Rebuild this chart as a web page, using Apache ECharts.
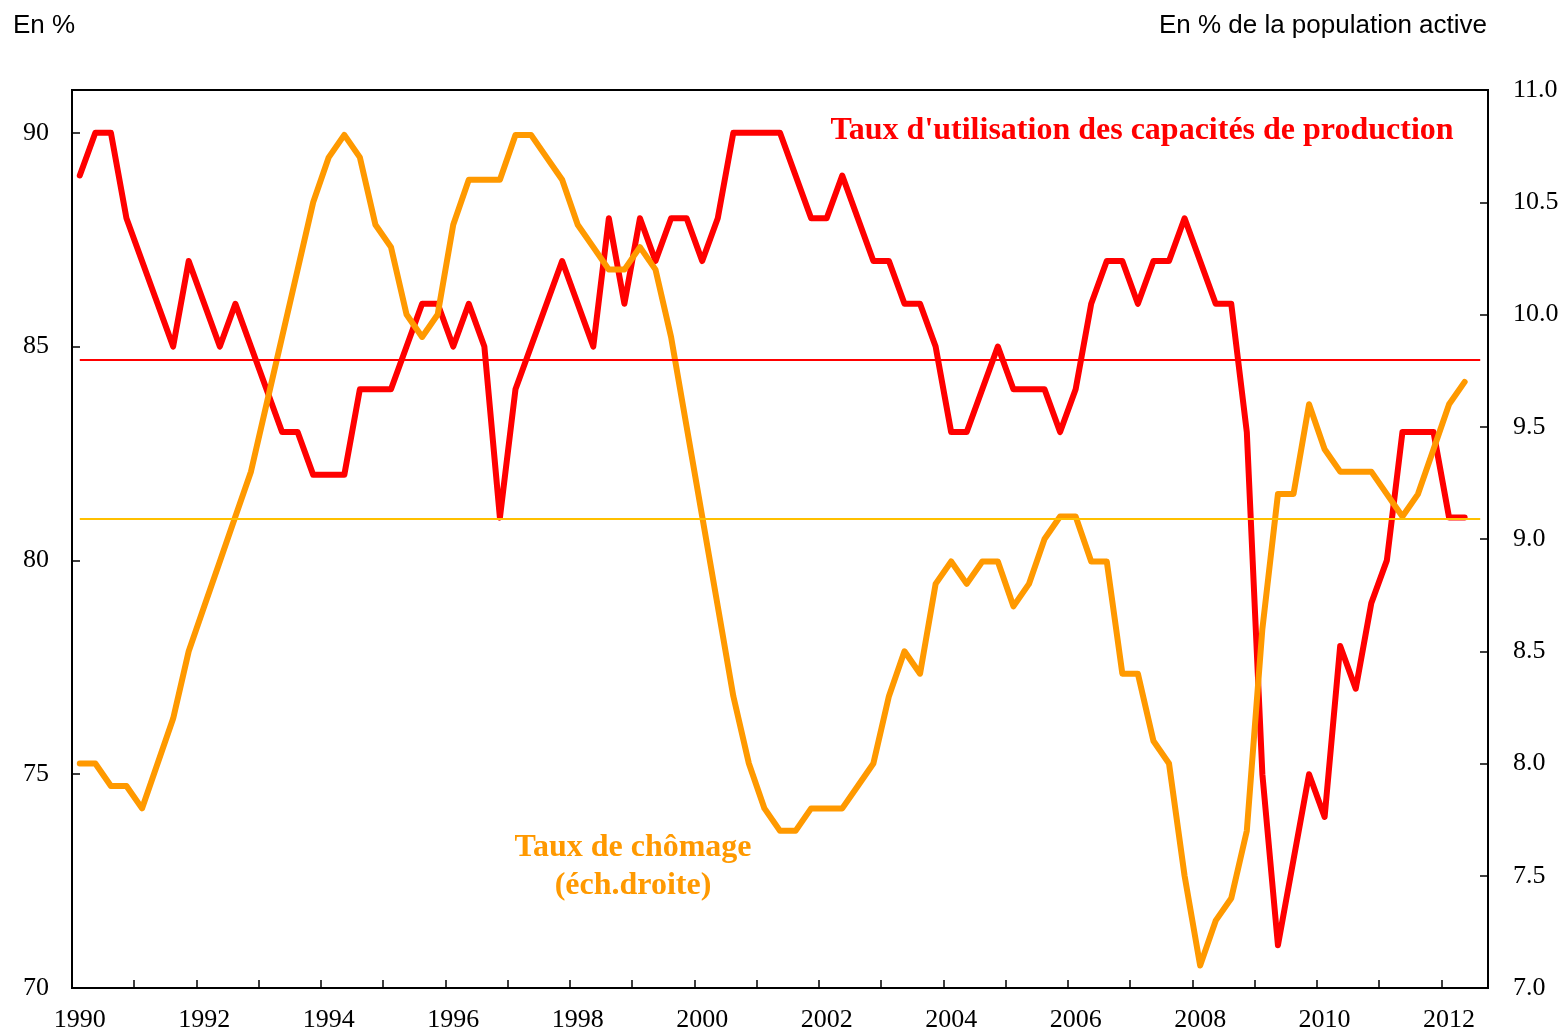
<!DOCTYPE html>
<html>
<head>
<meta charset="utf-8">
<script src="https://cdn.jsdelivr.net/npm/echarts@6/dist/echarts.min.js"></script>
<style>
  html, body { margin: 0; padding: 0; background: #fff; }
  #chart { width: 1565px; height: 1033px; }
</style>
</head>
<body>
<div id="chart"></div>
<script>
// years shown on the axis, quarterly data from 1990T1 to 2012T2
const years = [1990, 1991, 1992, 1993, 1994, 1995, 1996, 1997, 1998, 1999, 2000, 2001,
  2002, 2003, 2004, 2005, 2006, 2007, 2008, 2009, 2010, 2011, 2012];
const quarters = [];
years.forEach(y => ["T1", "T2", "T3", "T4"].forEach(q => quarters.push(y + q)));
const categories = quarters.slice(0, 91); // one empty slot after 2012T2

// Taux d'utilisation des capacités de production (en %)
const capacite = [
  89, 90, 90, 88, 87, 86, 85, 87, 86, 85,
  86, 85, 84, 83, 83, 82, 82, 82, 84, 84,
  84, 85, 86, 86, 85, 86, 85, 81, 84, 85,
  86, 87, 86, 85, 88, 86, 88, 87, 88, 88,
  87, 88, 90, 90, 90, 90, 89, 88, 88, 89,
  88, 87, 87, 86, 86, 85, 83, 83, 84, 85,
  84, 84, 84, 83, 84, 86, 87, 87, 86, 87,
  87, 88, 87, 86, 86, 83, 75, 71, 73, 75,
  74, 78, 77, 79, 80, 83, 83, 83, 81, 81
];

// Taux de chômage (en % de la population active, éch. droite)
const chomage = [
  8.0, 8.0, 7.9, 7.9, 7.8, 8.0, 8.2, 8.5, 8.7, 8.9,
  9.1, 9.3, 9.6, 9.9, 10.2, 10.5, 10.7, 10.8, 10.7, 10.4,
  10.3, 10.0, 9.9, 10.0, 10.4, 10.6, 10.6, 10.6, 10.8, 10.8,
  10.7, 10.6, 10.4, 10.3, 10.2, 10.2, 10.3, 10.2, 9.9, 9.5,
  9.1, 8.7, 8.3, 8.0, 7.8, 7.7, 7.7, 7.8, 7.8, 7.8,
  7.9, 8.0, 8.3, 8.5, 8.4, 8.8, 8.9, 8.8, 8.9, 8.9,
  8.7, 8.8, 9.0, 9.1, 9.1, 8.9, 8.9, 8.4, 8.4, 8.1,
  8.0, 7.5, 7.1, 7.3, 7.4, 7.7, 8.6, 9.2, 9.2, 9.6,
  9.4, 9.3, 9.3, 9.3, 9.2, 9.1, 9.2, 9.4, 9.6, 9.7
];

// moyennes de période (lignes horizontales)
const capaciteMoyenne = 84.7;
const chomageMoyenne = 9.09;

const leftTicks = [70, 75, 80, 85, 90];
const rightTicks = [7.0, 7.5, 8.0, 8.5, 9.0, 9.5, 10.0, 10.5, 11.0];

const RED = "#ff0000";
const ORANGE = "#ff9900";
const serif = "Liberation Serif";
const sans = "Liberation Sans";

const chart = echarts.init(document.getElementById("chart"));

const axisCommon = {
  axisLine: { show: true, lineStyle: { color: "#000", width: 2 } },
  axisTick: { show: true, inside: true, length: 8, lineStyle: { color: "#000", width: 1.5 } },
  splitLine: { show: false }
};

chart.setOption({
  animation: false,
  backgroundColor: "#fff",
  grid: {
    left: 72,
    right: 77,
    top: 90,
    bottom: 45,
    show: true,
    borderColor: "#000",
    borderWidth: 2,
    containLabel: false
  },
  xAxis: {
    type: "category",
    data: categories,
    boundaryGap: true,
    axisLine: axisCommon.axisLine,
    axisTick: {
      show: true,
      inside: true,
      length: 8,
      interval: 3,
      alignWithLabel: false,
      lineStyle: { color: "#000", width: 1.5 }
    },
    axisLabel: {
      interval: 7,
      margin: 19,
      color: "#000",
      fontFamily: serif,
      fontSize: 26,
      formatter: v => v.slice(0, 4)
    },
    splitLine: { show: false }
  },
  yAxis: [
    {
      type: "value",
      min: 70,
      max: 91,
      interval: 5,
      position: "left",
      ...axisCommon,
      axisLabel: {
        margin: 23,
        color: "#000",
        fontFamily: serif,
        fontSize: 26,
        formatter: v => (leftTicks.includes(v) ? String(v) : "")
      }
    },
    {
      type: "value",
      min: 7,
      max: 11,
      interval: 0.5,
      position: "right",
      ...axisCommon,
      axisLabel: {
        margin: 25,
        color: "#000",
        fontFamily: serif,
        fontSize: 26,
        formatter: v => (rightTicks.includes(v) ? v.toFixed(1) : "")
      }
    }
  ],
  series: [
    {
      name: "moyenne capacités",
      type: "line",
      yAxisIndex: 0,
      data: [],
      z: 1,
      silent: true,
      markLine: {
        silent: true,
        symbol: ["none", "none"],
        label: { show: false },
        lineStyle: { color: RED, width: 2, type: "solid" },
        data: [[
          { coord: [categories[0], capaciteMoyenne] },
          { coord: [categories[90], capaciteMoyenne] }
        ]]
      }
    },
    {
      name: "moyenne chômage",
      type: "line",
      yAxisIndex: 1,
      data: [],
      z: 1,
      silent: true,
      markLine: {
        silent: true,
        symbol: ["none", "none"],
        label: { show: false },
        lineStyle: { color: "#ffc000", width: 2, type: "solid" },
        data: [[
          { coord: [categories[0], chomageMoyenne] },
          { coord: [categories[90], chomageMoyenne] }
        ]]
      }
    },
    {
      name: "Taux d'utilisation des capacités de production",
      type: "line",
      yAxisIndex: 0,
      data: capacite,
      z: 3,
      showSymbol: false,
      symbol: "none",
      lineStyle: { color: RED, width: 6, cap: "round", join: "round" }
    },
    {
      name: "Taux de chômage",
      type: "line",
      yAxisIndex: 1,
      data: chomage,
      z: 4,
      showSymbol: false,
      symbol: "none",
      lineStyle: { color: ORANGE, width: 6, cap: "round", join: "round" }
    }
  ],
  graphic: [
    {
      type: "text",
      left: 13,
      top: 13,
      style: { text: "En %", fill: "#000", font: "26px " + sans }
    },
    {
      type: "text",
      right: 78,
      top: 13,
      style: { text: "En % de la population active", fill: "#000", font: "26px " + sans }
    },
    {
      type: "text",
      x: 1142,
      y: 131,
      style: {
        text: "Taux d'utilisation des capacités de production",
        fill: RED,
        font: "bold 32px " + serif,
        align: "center",
        verticalAlign: "middle"
      }
    },
    {
      type: "text",
      x: 633,
      y: 867,
      style: {
        text: "Taux de chômage\n(éch.droite)",
        fill: ORANGE,
        font: "bold 32px " + serif,
        lineHeight: 38,
        align: "center",
        verticalAlign: "middle"
      }
    }
  ]
});
</script>
</body>
</html>
